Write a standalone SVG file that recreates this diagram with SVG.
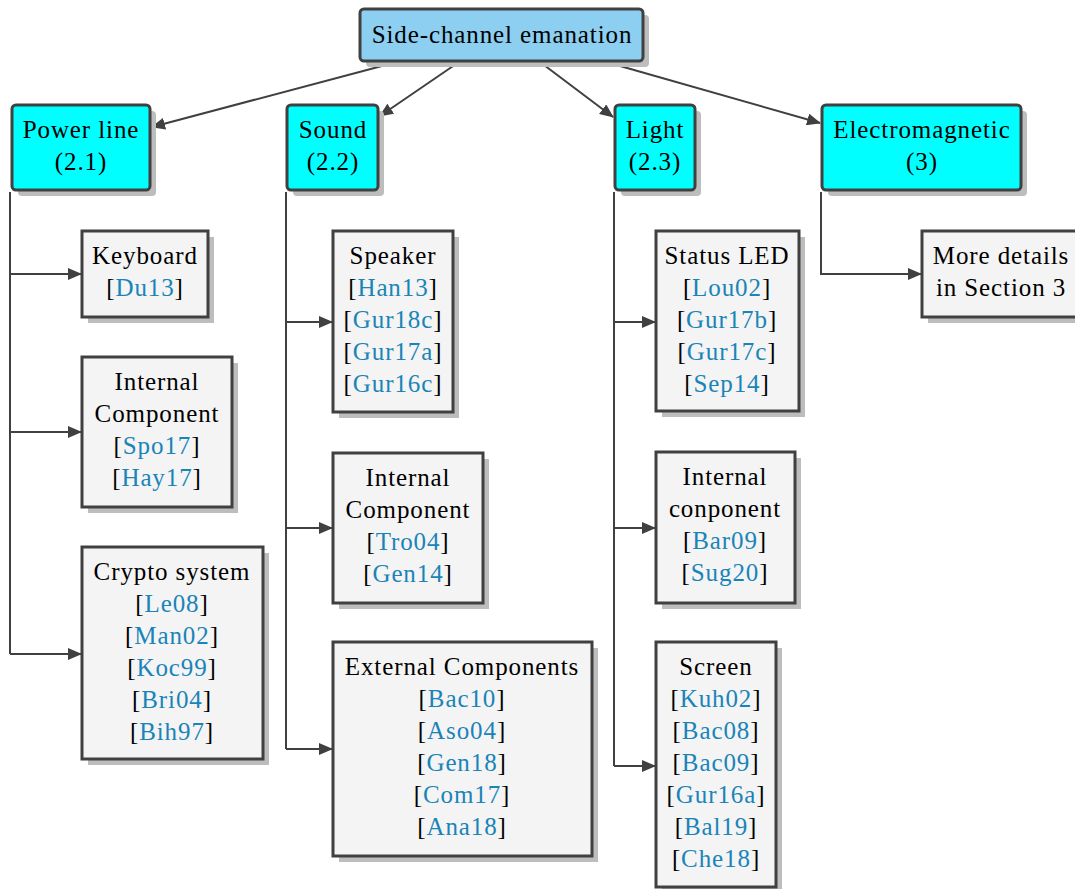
<svg xmlns="http://www.w3.org/2000/svg" width="1075" height="889" viewBox="0 0 1075 889">
  <style>
    text { font-family: "Liberation Serif", "DejaVu Serif", serif; font-size: 25px; letter-spacing: 0.9px; fill: #000; text-anchor: middle; }
    .ref { fill: #1a84b8; }
    .shadow { fill: #bdbdbd; }
    .root { fill: #8ccff0; stroke: #404040; stroke-width: 3; }
    .cat { fill: #00ffff; stroke: #404040; stroke-width: 3; }
    .leaf { fill: #f4f4f4; stroke: #404040; stroke-width: 3; }
    .edge { fill: none; stroke: #404040; stroke-width: 2; marker-end: url(#arrow); }
    .trunk { fill: none; stroke: #404040; stroke-width: 2; }
  </style>
  <defs>
    <marker id="arrow" markerUnits="userSpaceOnUse" markerWidth="14" markerHeight="12" refX="13" refY="6" orient="auto">
      <path d="M0,0 L14,6 L0,12 z" fill="#404040"/>
    </marker>
  </defs>
  <rect width="1075" height="889" fill="#ffffff"/>

  <!-- connectors -->
  <g id="connectors">
    <line class="edge" x1="397" y1="62" x2="152" y2="127"/>
    <line class="edge" x1="459" y1="62" x2="380" y2="116"/>
    <line class="edge" x1="540" y1="62" x2="613" y2="117"/>
    <line class="edge" x1="606" y1="62" x2="820" y2="123"/>

    <!-- Power line -->
    <polyline class="trunk" points="10,192 10,654"/>
    <line class="edge" x1="10" y1="274" x2="81" y2="274"/>
    <line class="edge" x1="10" y1="432" x2="81" y2="432"/>
    <line class="edge" x1="10" y1="654" x2="81" y2="654"/>

    <!-- Sound -->
    <polyline class="trunk" points="286,192 286,749"/>
    <line class="edge" x1="286" y1="322" x2="332" y2="322"/>
    <line class="edge" x1="286" y1="528" x2="332" y2="528"/>
    <line class="edge" x1="286" y1="749" x2="332" y2="749"/>

    <!-- Light -->
    <polyline class="trunk" points="614,192 614,766"/>
    <line class="edge" x1="614" y1="322" x2="655" y2="322"/>
    <line class="edge" x1="614" y1="528" x2="655" y2="528"/>
    <line class="edge" x1="614" y1="766" x2="655" y2="766"/>

    <!-- Electromagnetic -->
    <polyline class="edge" points="821,192 821,274 921,274"/>
  </g>

  <!-- root -->
  <g id="root">
    <rect class="shadow" x="366" y="15" width="283" height="52" rx="4"/>
    <rect class="root" x="360" y="9" width="283" height="52" rx="4"/>
    <text x="502" y="43">Side-channel emanation</text>
  </g>

  <!-- categories -->
  <g id="power-line">
    <rect class="shadow" x="18" y="111" width="138" height="85" rx="4"/>
    <rect class="cat" x="12" y="105" width="138" height="85" rx="4"/>
    <text x="81" y="138">Power line</text>
    <text x="81" y="170">(2.1)</text>
  </g>
  <g id="sound">
    <rect class="shadow" x="293" y="111" width="91" height="85" rx="4"/>
    <rect class="cat" x="287" y="105" width="91" height="85" rx="4"/>
    <text x="333" y="138">Sound</text>
    <text x="333" y="170">(2.2)</text>
  </g>
  <g id="light">
    <rect class="shadow" x="621" y="111" width="80" height="85" rx="4"/>
    <rect class="cat" x="615" y="105" width="80" height="85" rx="4"/>
    <text x="655" y="138">Light</text>
    <text x="655" y="170">(2.3)</text>
  </g>
  <g id="electromagnetic">
    <rect class="shadow" x="828" y="111" width="199" height="85" rx="4"/>
    <rect class="cat" x="822" y="105" width="199" height="85" rx="4"/>
    <text x="922" y="138">Electromagnetic</text>
    <text x="922" y="170">(3)</text>
  </g>

  <!-- Power line leaves -->
  <g id="keyboard">
    <rect class="shadow" x="88" y="237" width="126" height="86"/>
    <rect class="leaf" x="82" y="231" width="126" height="86"/>
    <text x="145" y="264">Keyboard</text>
    <text x="145" y="296">[<tspan class="ref">Du13</tspan>]</text>
  </g>
  <g id="power-internal">
    <rect class="shadow" x="88" y="363" width="150" height="150"/>
    <rect class="leaf" x="82" y="357" width="150" height="150"/>
    <text x="157" y="390">Internal</text>
    <text x="157" y="422">Component</text>
    <text x="157" y="454">[<tspan class="ref">Spo17</tspan>]</text>
    <text x="157" y="486">[<tspan class="ref">Hay17</tspan>]</text>
  </g>
  <g id="crypto">
    <rect class="shadow" x="88" y="553" width="181" height="212"/>
    <rect class="leaf" x="82" y="547" width="181" height="212"/>
    <text x="172" y="580">Crypto system</text>
    <text x="172" y="612">[<tspan class="ref">Le08</tspan>]</text>
    <text x="172" y="644">[<tspan class="ref">Man02</tspan>]</text>
    <text x="172" y="676">[<tspan class="ref">Koc99</tspan>]</text>
    <text x="172" y="708">[<tspan class="ref">Bri04</tspan>]</text>
    <text x="172" y="740">[<tspan class="ref">Bih97</tspan>]</text>
  </g>

  <!-- Sound leaves -->
  <g id="speaker">
    <rect class="shadow" x="339" y="237" width="120" height="181"/>
    <rect class="leaf" x="333" y="231" width="120" height="181"/>
    <text x="393" y="264">Speaker</text>
    <text x="393" y="296">[<tspan class="ref">Han13</tspan>]</text>
    <text x="393" y="328">[<tspan class="ref">Gur18c</tspan>]</text>
    <text x="393" y="360">[<tspan class="ref">Gur17a</tspan>]</text>
    <text x="393" y="392">[<tspan class="ref">Gur16c</tspan>]</text>
  </g>
  <g id="sound-internal">
    <rect class="shadow" x="339" y="459" width="150" height="150"/>
    <rect class="leaf" x="333" y="453" width="150" height="150"/>
    <text x="408" y="486">Internal</text>
    <text x="408" y="518">Component</text>
    <text x="408" y="550">[<tspan class="ref">Tro04</tspan>]</text>
    <text x="408" y="582">[<tspan class="ref">Gen14</tspan>]</text>
  </g>
  <g id="external">
    <rect class="shadow" x="339" y="648" width="259" height="214"/>
    <rect class="leaf" x="333" y="642" width="259" height="214"/>
    <text x="462" y="675">External Components</text>
    <text x="462" y="707">[<tspan class="ref">Bac10</tspan>]</text>
    <text x="462" y="739">[<tspan class="ref">Aso04</tspan>]</text>
    <text x="462" y="771">[<tspan class="ref">Gen18</tspan>]</text>
    <text x="462" y="803">[<tspan class="ref">Com17</tspan>]</text>
    <text x="462" y="835">[<tspan class="ref">Ana18</tspan>]</text>
  </g>

  <!-- Light leaves -->
  <g id="status-led">
    <rect class="shadow" x="662" y="237" width="143" height="180"/>
    <rect class="leaf" x="656" y="231" width="143" height="180"/>
    <text x="727" y="264">Status LED</text>
    <text x="727" y="296">[<tspan class="ref">Lou02</tspan>]</text>
    <text x="727" y="328">[<tspan class="ref">Gur17b</tspan>]</text>
    <text x="727" y="360">[<tspan class="ref">Gur17c</tspan>]</text>
    <text x="727" y="392">[<tspan class="ref">Sep14</tspan>]</text>
  </g>
  <g id="light-internal">
    <rect class="shadow" x="662" y="458" width="139" height="151"/>
    <rect class="leaf" x="656" y="452" width="139" height="151"/>
    <text x="725" y="485">Internal</text>
    <text x="725" y="517">conponent</text>
    <text x="725" y="549">[<tspan class="ref">Bar09</tspan>]</text>
    <text x="725" y="581">[<tspan class="ref">Sug20</tspan>]</text>
  </g>
  <g id="screen">
    <rect class="shadow" x="662" y="648" width="120" height="245"/>
    <rect class="leaf" x="656" y="642" width="120" height="245"/>
    <text x="716" y="675">Screen</text>
    <text x="716" y="707">[<tspan class="ref">Kuh02</tspan>]</text>
    <text x="716" y="739">[<tspan class="ref">Bac08</tspan>]</text>
    <text x="716" y="771">[<tspan class="ref">Bac09</tspan>]</text>
    <text x="716" y="803">[<tspan class="ref">Gur16a</tspan>]</text>
    <text x="716" y="835">[<tspan class="ref">Bal19</tspan>]</text>
    <text x="716" y="867">[<tspan class="ref">Che18</tspan>]</text>
  </g>

  <!-- Electromagnetic leaf -->
  <g id="more-details">
    <rect class="shadow" x="928" y="237" width="160" height="86"/>
    <rect class="leaf" x="922" y="231" width="160" height="86"/>
    <text x="1001" y="264">More details</text>
    <text x="1001" y="296">in Section 3</text>
  </g>
</svg>
